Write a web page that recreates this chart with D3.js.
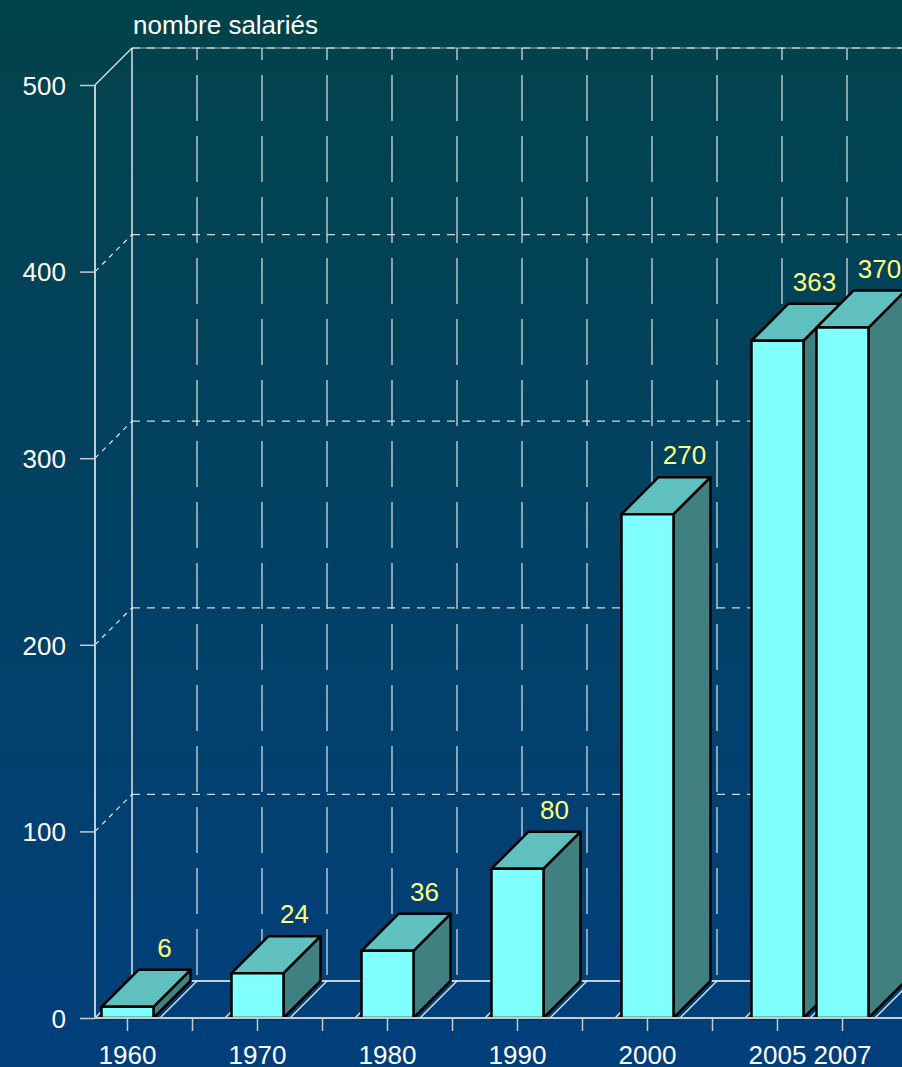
<!DOCTYPE html>
<html>
<head>
<meta charset="utf-8">
<script src="https://cdn.jsdelivr.net/npm/d3@7"></script>
<style>
  html, body { margin: 0; padding: 0; background: #013f7c; }
  svg { display: block; font-family: Arial, "Liberation Sans", sans-serif; }
</style>
</head>
<body>
<svg id="chart"></svg>
<script>
// category slots (blank = empty slot on the axis)
const categories = ["1960", "", "1970", "", "1980", "", "1990", "", "2000", "", "2005", "2007", "", ""];
const values = [6, null, 24, null, 36, null, 80, null, 270, null, 363, 370, null, null];
const yTicks = [0, 100, 200, 300, 400, 500];
const yTitle = "nombre salariés";

const width = 902, height = 1067;
const margin = { left: 95, top: 85, bottom: 49 };
const depth = 37;
const slotW = 65;
const fontSize = 26;

const svg = d3.select("#chart").attr("width", width).attr("height", height);

// background gradient
const defs = svg.append("defs");
const grad = defs.append("linearGradient").attr("id", "bg")
  .attr("x1", 0).attr("y1", 0).attr("x2", 0).attr("y2", 1);
grad.append("stop").attr("offset", "0%").attr("stop-color", "#01434a");
grad.append("stop").attr("offset", "100%").attr("stop-color", "#013f7c");
svg.append("rect").attr("width", width).attr("height", height).attr("fill", "url(#bg)");

const x = d3.scaleBand()
  .domain(d3.range(categories.length))
  .range([margin.left, margin.left + slotW * categories.length]);

const y = d3.scaleLinear().domain([0, 500]).range([height - margin.bottom, margin.top]);

const x0 = margin.left, y0 = y(0);
const xEnd = x.range()[1] + depth;
const backX = x0 + depth;

// back wall horizontal gridlines
const grid = svg.append("g");
yTicks.filter(d => d > 0).forEach(d => {
  grid.append("line")
    .attr("x1", backX).attr("x2", xEnd)
    .attr("y1", y(d) - depth).attr("y2", y(d) - depth)
    .attr("stroke", d === 500 ? "#9fb4bc" : "#d0dade")
    .attr("stroke-width", 1.2)
    .attr("stroke-dasharray", d === 500 ? null : "8,7");
  if (d === 500) {
    grid.append("line")
      .attr("x1", backX).attr("x2", xEnd)
      .attr("y1", y(d) - depth).attr("y2", y(d) - depth)
      .attr("stroke", "#e8eef0").attr("stroke-width", 1.2)
      .attr("stroke-dasharray", "8,7");
  }
  // left wall depth line
  grid.append("line")
    .attr("x1", x0).attr("y1", y(d))
    .attr("x2", backX).attr("y2", y(d) - depth)
    .attr("stroke", "#e0e8ec")
    .attr("stroke-width", 1.2)
    .attr("stroke-dasharray", d === 500 ? null : "5,5");
});

// back wall vertical gridlines at slot boundaries
d3.range(1, categories.length + 1).forEach(i => {
  const bx = x.range()[0] + i * slotW + depth;
  grid.append("line")
    .attr("x1", bx).attr("x2", bx)
    .attr("y1", y(500) - depth).attr("y2", y0 - depth)
    .attr("stroke", "#dfe6ea")
    .attr("stroke-width", 1.2)
    .attr("stroke-dasharray", "46,15")
    .attr("stroke-dashoffset", 34);
});

// back wall left edge
grid.append("line")
  .attr("x1", backX).attr("x2", backX)
  .attr("y1", y(500) - depth).attr("y2", y0 - depth)
  .attr("stroke", "#ffffff").attr("stroke-width", 1.3);

// floor back line
grid.append("line")
  .attr("x1", backX).attr("x2", xEnd)
  .attr("y1", y0 - depth).attr("y2", y0 - depth)
  .attr("stroke", "#ffffff").attr("stroke-width", 1.3);

// floor diagonals at slot boundaries
d3.range(0, categories.length + 1).forEach(i => {
  const fx = x.range()[0] + i * slotW;
  grid.append("line")
    .attr("x1", fx).attr("y1", y0)
    .attr("x2", fx + depth).attr("y2", y0 - depth)
    .attr("stroke", "#e8eef2").attr("stroke-width", 1.3);
});

// front y axis line
svg.append("line")
  .attr("x1", x0).attr("x2", x0)
  .attr("y1", y(500)).attr("y2", y0)
  .attr("stroke", "#c8cccf").attr("stroke-width", 2);

// bars
const barW = x.bandwidth() * 0.8;
const bars = svg.append("g");
categories.forEach((c, i) => {
  const v = values[i];
  if (v == null) return;
  const cx = x(i) + x.bandwidth() / 2;
  const l = cx - barW / 2, r = cx + barW / 2, t = y(v);
  const g = bars.append("g")
    .attr("stroke", "#000").attr("stroke-width", 2.5).attr("stroke-linejoin", "round");
  g.append("polygon")
    .attr("points", [[r, t], [r + depth, t - depth], [r + depth, y0 - depth], [r, y0]].join(" "))
    .attr("fill", "#408080");
  g.append("polygon")
    .attr("points", [[l, t], [r, t], [r + depth, t - depth], [l + depth, t - depth]].join(" "))
    .attr("fill", "#60c0c0");
  g.append("rect")
    .attr("x", l).attr("y", t).attr("width", barW).attr("height", y0 - t)
    .attr("fill", "#80ffff");
  bars.append("text")
    .attr("x", cx + depth).attr("y", t - depth - 13)
    .attr("text-anchor", "middle")
    .attr("fill", "#ffff80")
    .attr("font-size", fontSize)
    .text(v);
});

// x axis baseline over the bars' bottoms
svg.append("line")
  .attr("x1", x0).attr("x2", xEnd)
  .attr("y1", y0).attr("y2", y0)
  .attr("stroke", "#c8cccf").attr("stroke-width", 2);

// axes
const xAxis = d3.axisBottom(x).tickSize(13).tickPadding(15).tickFormat(i => categories[i]);
const xAxisG = svg.append("g").attr("transform", `translate(0,${y0})`).call(xAxis);
xAxisG.select(".domain").remove();
xAxisG.selectAll("line").attr("stroke", "#c8cccf").attr("stroke-width", 1.5);
xAxisG.selectAll("text").attr("fill", "#ffffff").attr("font-size", fontSize);

const yAxis = d3.axisLeft(y).tickValues(yTicks).tickSize(15).tickPadding(14);
const yAxisG = svg.append("g").attr("transform", `translate(${x0},0)`).call(yAxis);
yAxisG.select(".domain").remove();
yAxisG.selectAll("line").attr("stroke", "#c8cccf").attr("stroke-width", 1.5);
yAxisG.selectAll("text").attr("fill", "#ffffff").attr("font-size", fontSize).attr("dy", "0.36em");
xAxisG.attr("font-family", null);
yAxisG.attr("font-family", null);

// y axis title
svg.append("text")
  .attr("x", backX + 1).attr("y", 34)
  .attr("fill", "#ffffff").attr("font-size", fontSize)
  .text(yTitle);
</script>
</body>
</html>
